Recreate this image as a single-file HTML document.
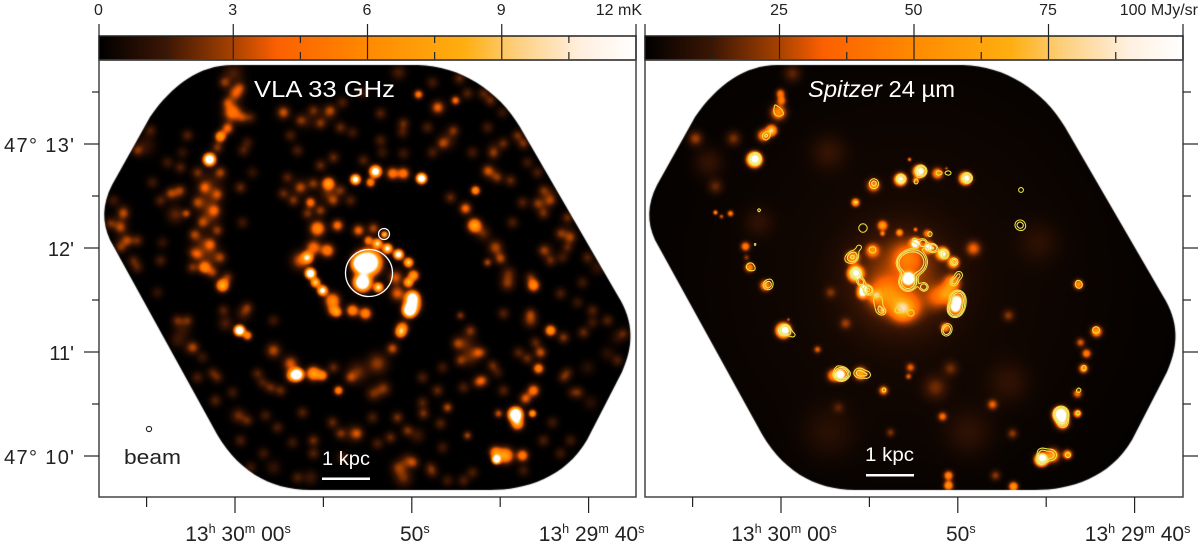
<!DOCTYPE html>
<html lang="en">
<head>
<meta charset="utf-8">
<title>M51 VLA 33 GHz and Spitzer 24 micron maps</title>
<style>
html,body{margin:0;padding:0;background:#fff;}
#stage{position:relative;width:1200px;height:559px;overflow:hidden;background:#fff;font-family:"Liberation Sans",sans-serif;}
canvas{position:absolute;display:block;}
#overlay{position:absolute;left:0;top:0;}
#overlay text{font-family:"Liberation Sans",sans-serif;}
</style>
</head>
<body>
<div id="stage">
<canvas id="radioMap" width="537" height="437" style="left:99px;top:60px"></canvas>
<canvas id="irMap" width="537" height="437" style="left:645px;top:60px"></canvas>
<svg id="overlay" width="1200" height="559" viewBox="0 0 1200 559" xmlns="http://www.w3.org/2000/svg">
<defs>
<linearGradient id="cmapGradient" x1="0" x2="1" y1="0" y2="0"></linearGradient>
</defs>
<g id="barsLayer"></g>
<g id="contourLayer" fill="none"></g>
<g id="axesLayer"></g>
<g id="annotationLayer">
<circle cx="369" cy="273" r="23.5" fill="none" stroke="#fff" stroke-width="1.3"/>
<circle cx="384" cy="234" r="5.5" fill="none" stroke="#fff" stroke-width="1.2"/>
<text x="254" y="97" font-size="23" fill="#fff" textLength="141" lengthAdjust="spacingAndGlyphs">VLA 33 GHz</text>
<text x="808" y="97" font-size="23" fill="#fff" textLength="147" lengthAdjust="spacingAndGlyphs"><tspan font-style="italic">Spitzer</tspan> 24 µm</text>
<text x="322" y="465" font-size="19" fill="#fff" textLength="48" lengthAdjust="spacingAndGlyphs">1 kpc</text>
<rect x="322" y="477.5" width="48" height="2.5" fill="#fff"/>
<text x="865" y="461" font-size="19" fill="#fff" textLength="49" lengthAdjust="spacingAndGlyphs">1 kpc</text>
<rect x="866" y="474" width="48" height="2.5" fill="#fff"/>
<circle cx="149" cy="429" r="2.6" fill="#fff" stroke="#222" stroke-width="1.1"/>
<text x="124" y="464" font-size="20" fill="#222" textLength="57" lengthAdjust="spacingAndGlyphs">beam</text>
</g>
</svg>
</div>
<script>
/* ---------- axis data ---------- */
const radioBarTicks = [0, 1.5, 3, 4.5, 6, 7.5, 9, 10.5, 12];
const radioBarLabels = ["0", "", "3", "", "6", "", "9", "", "12 mK"];
const irBarTicks = [0, 12.5, 25, 37.5, 50, 62.5, 75, 87.5, 100];
const irBarLabels = ["", "", "25", "", "50", "", "75", "", "100 MJy/sr"];
const raTicks = [-5, 0, 5, 10, 15, 20];
const raLabels = ["", "13h 30m 00s", "", "50s", "", "13h 29m 40s"];
const decTicks = [10, 10.5, 11, 11.5, 12, 12.5, 13, 13.5];
const decLabels = ["47° 10'", "", "11'", "", "12'", "", "47° 13'", ""];
const cmapLevels = [0, 0.125, 0.25, 0.33, 0.5, 0.68, 0.78, 0.9, 1];
const cmapColors = ["#000000", "#3c1604", "#a84200", "#fb5f00", "#ff8a00", "#ffae10", "#fdd080", "#fff0e0", "#ffffff"];
const contourLevels = [0.33, 0.48, 0.75];

/* Emission knots: [west offset, north offset, width, peak] from the nucleus,
   in map cells (1 cell = 0.577 arcsec); peak is a fraction of the colour-bar range. */
const radioKnots = [
[-129,209,7,.14],[-127,189,5,.3],[-130,170,6,.42],[-135,154,4,.35],[-142,146,3.5,.6],[-153,123,3.5,1.6],
[-152,99,9,.12],[-155,79,9,.13],[-152,65,7,.12],[-159,39,8,.14],[-152,25,8,.12],[-158,15,4,.45],[-140,-3,4,.7],
[-187,68,6,.16],[-176,69,3,.25],[-217,137,7,.1],[-242,59,6,.08],[-239,72,5,.08],[-239,42,6,.08],[-187,89,5,.1],
[-34,99,4,.6],[-52,80,3.5,.4],[-7,103,3,1.2],[-45,54,5,.5],[-25,57,4,.38],[-55,25,3.5,.8],[-52,9,3,1.6],
[-35,32,4.5,.45],[-62,22,6,.3],[-49,35,5,.38],[-35,89,6,.14],[-62,95,7,.08],[-79,170,5,.12],[-35,169,6,.1],[-55,162,6,.08],
[13,111,3.5,1.3],[8,100,3,.5],[30,109,4,.42],[41,109,4,.42],[59,104,3,1.5],[6,20,7,2],[-2,19,5,1.5],[0,0,5,1.8],
[16,-5,3,.9],[-4,52,4,.35],[11,54,4,.25],[22,48,2,.8],[6,42,3,.45],[15,39,3,.85],[25,34,3,1],[36,28,3,1.2],[46,20,3,.8],
[51,7,3.5,.6],[46,0,3,.7],[50,-15,4,1.2],[47,-28,4,1.6],[50,-22,5,.9],[40,-45,4,.45],[35,-11,5,.32],[33,5,5,.3],
[-40,-8,3,1.1],[-47,0,3,.8],[-30,-18,5,.5],[-25,-30,3,.4],[-10,-28,4,.5],[3,-31,4,.5],
[56,188,3,.42],[93,182,3,.38],[76,175,5,.14],[97,204,4,.16],[36,210,5,.14],[85,142,6,.12],[113,92,3,.55],[128,110,5,.12],
[103,74,4,.36],[112,57,4.5,.65],[121,49,5,.16],[133,35,5,.25],[138,24,4,.26],[125,20,3,.25],[146,9,5,.16],[155,147,4,.18],
[131,134,5,.08],[181,79,6,.08],[205,49,6,.08],[188,89,5,.08],[185,32,5,.08],[235,15,5,.1],
[38,-50,3.5,.6],[30,-66,4,.28],[15,-81,7,.22],[21,-106,5,.2],[11,-111,5,.18],[103,-61,7,.14],[108,-75,6,.14],[118,-98,4,.14],
[98,-33,3,.2],[145,-1,5,.2],[171,-3,4,.5],[168,-38,5,.2],[188,-48,3.5,.58],[201,-55,4,.2],[178,-70,4,.28],[173,-60,4,.16],
[176,-86,3.5,.48],[171,-108,4,.42],[163,-116,4,.32],[153,-132,4,2],[155,-141,4,.65],[170,-131,2.5,.6],[136,-131,3,.28],
[134,-177,2.5,1.6],[143,-173,5,.62],[160,-173,4,.45],[133,-170,4,.5],[85,-125,3.5,.26],[55,-153,5,.12],[41,-195,6,.18],[45,-178,5,.16],
[105,-153,3,.24],[245,-71,5,.08],[228,-120,5,.08],[255,-55,5,.08],[225,-85,5,.08],
[-123,-48,3,1.7],[-115,-53,3,.5],[-119,-31,5,.14],[-137,-41,5,.14],[-89,-68,5,.26],[-72,-81,5,.3],[-65,-92,3.5,1.6],[-70,-93,4,.6],
[-49,-91,4.5,.62],[-40,-93,3.5,.45],[-24,-108,3,.5],[-5,-90,7,.18],[-180,-48,6,.1],[-172,-65,5,.1],[-185,-58,5,.1],
[-124,-133,5,.18],[-97,-133,4,.13],[-49,-158,4,.18],[-52,-195,5,.12],[-89,-185,5,.1],[-99,-171,4,.12],[-9,-151,6,.14],
[36,-185,5,.2],[-29,-28,4,.38]
];

/* Fainter, small-scale structure: [west offset, north offset, peak]. */
const radioMottle = [
[-138,200,.2],[-122,195,.19],[-135,180,.22],[-120,165,.19],[-145,135,.2],[-165,110,.17],[-142,110,.22],[-158,95,.24],[-145,88,.22],[-165,80,.2],
[-148,72,.24],[-160,60,.22],[-145,52,.2],[-168,48,.22],[-152,38,.24],[-165,28,.22],[-142,25,.2],[-150,10,.22],[-170,15,.19],[-135,5,.19],
[-225,132,.17],[-212,152,.14],[-249,82,.12],[-239,69,.19],[-242,55,.2],[-252,59,.17],[-235,42,.19],[-225,42,.17],[-242,35,.17],[-229,22,.15],
[-202,82,.15],[-192,89,.19],[-182,92,.19],[-175,147,.15],[-182,115,.15],[-122,95,.17],[-119,132,.14],[-112,165,.14],[-202,22,.14],
[-69,82,.19],[-79,89,.17],[-62,95,.19],[-49,99,.2],[-29,82,.22],[-42,72,.22],[-55,69,.19],[-75,105,.15],[-22,92,.19],[-12,82,.15],
[-79,170,.17],[-62,162,.17],[-49,172,.17],[-32,172,.19],[-22,155,.17],[-42,159,.19],[-72,147,.14],[-65,132,.14],[-29,125,.17],[-42,117,.17],[1,122,.15],
[80,139,.19],[91,152,.19],[75,175,.2],[105,189,.15],[121,189,.15],[128,182,.17],[161,139,.19],[141,139,.17],[131,129,.17],[125,112,.2],[135,105,.19],[148,102,.17],
[181,92,.17],[175,79,.17],[188,82,.19],[181,69,.17],[205,65,.17],[198,49,.17],[208,45,.19],[205,35,.15],[225,25,.15],[181,32,.17],[188,22,.17],[168,5,.17],
[88,85,.17],[41,159,.17],[18,142,.14],[18,169,.15],[65,155,.14],[41,129,.12],
[95,-61,.19],[108,-48,.19],[115,-70,.2],[98,-78,.19],[130,-83,.17],[121,-98,.15],[115,-100,.14],[141,-108,.15],[101,-105,.14],[75,-108,.17],
[61,-131,.19],[35,-135,.19],[78,-141,.15],[45,-148,.19],[28,-155,.17],[15,-161,.14],[68,-185,.14],[51,-180,.2],[85,-198,.12],[101,-198,.14],
[161,-188,.12],[181,-158,.14],[208,-158,.12],[198,-171,.12],[216,-110,.15],[201,-95,.15],[221,-50,.17],[245,-38,.15],[230,-28,.15],[261,-51,.14],
[255,-78,.14],[168,-31,.17],[141,-31,.15],[198,-11,.14],[156,-70,.15],[165,-76,.17],
[-185,-38,.17],[-175,-38,.17],[-169,-65,.17],[-165,-95,.14],[-145,-95,.14],[-147,-118,.15],[-115,-138,.15],[-139,-28,.15],[-115,-25,.17],[-89,-38,.12],
[-105,-91,.15],[-92,-105,.17],[-82,-108,.17],[-29,-85,.17],[-12,-95,.19],[-22,-151,.19],[-5,-151,.19],[-49,-171,.15],[-65,-195,.14],[-112,-185,.12],
[-122,-158,.14],[-85,-145,.14],
[-210,100,.12],[-200,40,.1],[-225,15,.14],[-205,-10,.1],[-170,30,.12],[-120,60,.12],[-110,110,.1],[-115,140,.12],[-180,130,.1],[-195,120,.12],
[-150,-90,.13],[-130,-110,.12],[-160,-75,.11],[-100,-100,.13],[-60,-130,.15],[-30,-140,.17],[-70,-160,.12],[-20,-175,.14],[10,-135,.14],[60,-120,.15],
[80,-85,.12],[60,-95,.14],[80,-165,.12],[70,-190,.12],[110,-190,.14],[120,-70,.13],[135,-90,.11],[190,-140,.12],[210,-110,.11],[205,-90,.13],
[230,-40,.12],[215,-20,.11],[150,60,.14],[160,80,.15],[175,110,.14],[200,25,.13],[220,0,.12],[165,120,.12],[125,155,.13],[110,130,.13],
[70,130,.14],[40,150,.13],[20,130,.11],[-10,150,.12],[-20,180,.14],[70,200,.13],[140,170,.11],[0,190,.12]
];

const infraredKnots = [
[0,2,150,.045],[-200,120,10,.09],[-150,60,10,.07],[-80,130,12,.08],[130,40,14,.06],[60,-150,16,.07],[-80,-150,18,.06],[100,-100,14,.07],
[-128,189,3,.4],[-127,182,3,.4],[-130,170,5,.5],[-137,152,3.5,.8],[-145,147,4,.5],[-154,123,4,2.2],[-213,144,5,.22],[-175,144,5,.18],
[-193,96,5,.15],[-193,70,1.5,.5],[-178,69,2,.45],[-187,66,1.5,.3],[-116,209,6,.15],[-163,36,3,.45],[-159,15,3,.5],[-162,25,2,.2],
[-53,80,2.5,.7],[-35,97,4,.5],[-8,103,3.5,1.3],[1,123,1.2,.45],[-26,57,3,.55],[-9,50,2,.55],[-56,25,4,.55],[-53,9,4,2],[-36,32,4,.45],
[11,111,3.5,1.6],[7,102,2,.4],[29,109,3.5,.55],[57,104,3.5,1.5],[38,114,1,.3],[-45,-6,3,1.1],[-26,49,1.5,.4],[7,53,1.2,.4],
[0,4,3.5,2.4],[-8,2,32,.22],[-25,-11,10,.22],[-16,-15,10,.14],[-8,-25,8,.2],[2,-25,8,.2],[-26,-28,2,.55],[29,-15,8,.2],[65,34,5,.3],
[7,39,3,1.3],[20,35,3,1.2],[34,29,3.5,1.2],[45,20,3.5,.65],[19,49,2.5,.4],[-1,25,10,.25],[49,-18,3.5,1.3],[47,-25,3.5,1.5],[44,0,5,.45],
[39,-11,6,.42],[37,-45,3,.5],[170,-2,3,.55],[188,-49,3.5,.6],[172,-60,3,.3],[178,-71,3,.45],[175,-86,3,.55],[169,-111,3,.4],
[152,-132,4,2.4],[154,-140,4,.8],[169,-131,2.5,.7],[133,-177,3.5,2.4],[144,-173,4.5,.6],[159,-172,3,.6],[40,-193,3,.5],[40,-203,3,.6],
[105,-204,3,.6],[84,-122,3.5,.3],[34,-134,3,.35],[104,-151,3.5,.2],[87,-193,3.5,.2],[100,-33,4,.18],[27,-105,8,.15],[42,-86,5,.15],
[-143,-3,3.5,.55],[-125,-48,4,1.9],[-120,-37,1,.3],[-91,-67,2.5,.3],[-68,-92,3.5,1.5],[-75,-93,4,.5],[-48,-91,4,.65],[-25,-108,3,.45],
[2,-85,3,.3],[0,-94,2,.3],[-63,-41,4,.18],[-78,-10,4,.15],[-18,-150,3,.18],[-70,-125,4,.12],[-46,-11,3,.9],[-33,-13,4,.45],[-6,-28,7,.3]
];

/* ---------- scales ---------- */
const NS = "http://www.w3.org/2000/svg";
const MAP_W = 537, MAP_H = 437;
const NUCLEUS_COL = 263, NUCLEUS_ROW = 222;
const CELL_ARCSEC = 0.577, PX_PER_ARCSEC = 104 / 60;
const MOTTLE_WIDTH = 4;
function cellX(west) { return NUCLEUS_COL + west * CELL_ARCSEC * PX_PER_ARCSEC; }
function cellY(north) { return NUCLEUS_ROW - north * CELL_ARCSEC * PX_PER_ARCSEC; }
function raX(sec, panelShift) { return 235 + sec * 17.68 + panelShift; }
function decY(arcmin) { return 456 - (arcmin - 10) * 104; }
function barX(value, maxValue, left, width) { return left + value / maxValue * width; }

function hexToRgb(h) { return [parseInt(h.substr(1, 2), 16), parseInt(h.substr(3, 2), 16), parseInt(h.substr(5, 2), 16)]; }
function colourAt(t) {
  t = Math.max(0, Math.min(1, t));
  for (let i = 1; i < cmapLevels.length; i++) {
    if (t <= cmapLevels[i]) {
      const a = hexToRgb(cmapColors[i - 1]), b = hexToRgb(cmapColors[i]);
      const f = (t - cmapLevels[i - 1]) / (cmapLevels[i] - cmapLevels[i - 1]);
      return [a[0] + (b[0] - a[0]) * f, a[1] + (b[1] - a[1]) * f, a[2] + (b[2] - a[2]) * f];
    }
  }
  return hexToRgb(cmapColors[cmapColors.length - 1]);
}

/* ---------- maps ---------- */
function buildField(knots) {
  const field = new Float32Array(MAP_W * MAP_H);
  knots.forEach(function (k) {
    const cx = cellX(k[0]), cy = cellY(k[1]), s = k[2], a = k[3];
    const reach = Math.ceil(s * 3.2);
    const x0 = Math.max(0, Math.floor(cx - reach)), x1 = Math.min(MAP_W - 1, Math.ceil(cx + reach));
    const y0 = Math.max(0, Math.floor(cy - reach)), y1 = Math.min(MAP_H - 1, Math.ceil(cy + reach));
    for (let y = y0; y <= y1; y++) {
      for (let x = x0; x <= x1; x++) {
        const dx = x - cx, dy = y - cy;
        field[y * MAP_W + x] += a * Math.exp(-(dx * dx + dy * dy) / (2 * s * s));
      }
    }
  });
  return field;
}
function smoothField(field, radius) {
  const out = new Float32Array(field.length), tmp = new Float32Array(field.length);
  const n = 2 * radius + 1;
  for (let y = 0; y < MAP_H; y++) {
    for (let x = 0; x < MAP_W; x++) {
      let sum = 0;
      for (let d = -radius; d <= radius; d++) sum += field[y * MAP_W + Math.max(0, Math.min(MAP_W - 1, x + d))];
      tmp[y * MAP_W + x] = sum / n;
    }
  }
  for (let y = 0; y < MAP_H; y++) {
    for (let x = 0; x < MAP_W; x++) {
      let sum = 0;
      for (let d = -radius; d <= radius; d++) sum += tmp[Math.max(0, Math.min(MAP_H - 1, y + d)) * MAP_W + x];
      out[y * MAP_W + x] = sum / n;
    }
  }
  return out;
}
const MAP_OUTLINE = "M232,65 L418,65 C460,66 498,90 520,127 L618,296 C634,322 634,345 622,372 L587,440 C565,478 525,490 490,490 L310,490 C270,490 235,470 213,427 L110,240 C102,222 102,205 112,185 L150,117 C172,85 200,65 232,65 Z";
function paintField(canvas, field, originX) {
  const off = document.createElement("canvas");
  off.width = MAP_W;
  off.height = MAP_H;
  const octx = off.getContext("2d");
  const img = octx.createImageData(MAP_W, MAP_H);
  for (let i = 0; i < field.length; i++) {
    const c = colourAt(field[i]);
    img.data[i * 4] = c[0];
    img.data[i * 4 + 1] = c[1];
    img.data[i * 4 + 2] = c[2];
    img.data[i * 4 + 3] = 255;
  }
  octx.putImageData(img, 0, 0);
  const ctx = canvas.getContext("2d");
  ctx.save();
  ctx.translate(-originX, -60);
  ctx.clip(new Path2D(MAP_OUTLINE));
  ctx.translate(originX, 60);
  ctx.drawImage(off, 0, 0);
  ctx.restore();
}
const radioField = buildField(radioKnots.concat(radioMottle.map(function (m) { return [m[0], m[1], MOTTLE_WIDTH, m[2]]; })));
const infraredField = buildField(infraredKnots);
paintField(document.getElementById("radioMap"), radioField, 99);
paintField(document.getElementById("irMap"), infraredField, 100);

/* ---------- contours of the radio field on the infrared map ---------- */
function contourPath(field, level, originX, originY) {
  const step = 2, parts = [];
  function val(x, y) { return field[y * MAP_W + x]; }
  function cross(a, b) { return (level - a) / (b - a); }
  for (let y = 0; y + step < MAP_H; y += step) {
    for (let x = 0; x + step < MAP_W; x += step) {
      const a = val(x, y), b = val(x + step, y), c = val(x + step, y + step), d = val(x, y + step);
      const code = (a > level ? 8 : 0) | (b > level ? 4 : 0) | (c > level ? 2 : 0) | (d > level ? 1 : 0);
      if (code === 0 || code === 15) continue;
      const top = [x + step * cross(a, b), y], right = [x + step, y + step * cross(b, c)];
      const bottom = [x + step * cross(d, c), y + step], left = [x, y + step * cross(a, d)];
      const segs = {1:[[left,bottom]],2:[[bottom,right]],3:[[left,right]],4:[[top,right]],5:[[left,top],[bottom,right]],6:[[top,bottom]],7:[[left,top]],8:[[left,top]],9:[[top,bottom]],10:[[top,right],[left,bottom]],11:[[top,right]],12:[[left,right]],13:[[bottom,right]],14:[[left,bottom]]}[code];
      segs.forEach(function (s) {
        parts.push("M" + (s[0][0] + originX).toFixed(1) + " " + (s[0][1] + originY).toFixed(1) + "L" + (s[1][0] + originX).toFixed(1) + " " + (s[1][1] + originY).toFixed(1));
      });
    }
  }
  return parts.join("");
}
const contourField = smoothField(radioField, 2);
const contourLayer = document.getElementById("contourLayer");
contourLevels.forEach(function (level, i) {
  const p = document.createElementNS(NS, "path");
  p.setAttribute("d", contourPath(contourField, level, 645, 60));
  p.setAttribute("stroke", i === 0 ? "#e9e03c" : "#efe770");
  p.setAttribute("stroke-width", "1.1");
  
  
  contourLayer.appendChild(p);
});

/* ---------- colour bars, frames, ticks ---------- */
const grad = document.getElementById("cmapGradient");
cmapLevels.forEach(function (lv, i) {
  const s = document.createElementNS(NS, "stop");
  s.setAttribute("offset", lv);
  s.setAttribute("stop-color", cmapColors[i]);
  grad.appendChild(s);
});
const axesLayer = document.getElementById("axesLayer");
const barsLayer = document.getElementById("barsLayer");
function tickLine(x1, y1, x2, y2) {
  const l = document.createElementNS(NS, "line");
  l.setAttribute("x1", x1);
  l.setAttribute("y1", y1);
  l.setAttribute("x2", x2);
  l.setAttribute("y2", y2);
  l.setAttribute("stroke", "#222");
  l.setAttribute("stroke-width", "1.2");
  
  
  axesLayer.appendChild(l);
}
function addText(str, x, y, size, anchor) {
  const t = document.createElementNS(NS, "text");
  t.setAttribute("x", x);
  t.setAttribute("y", y);
  t.setAttribute("font-size", size);
  t.setAttribute("fill", "#222");
  t.setAttribute("text-anchor", anchor);
  
  
  str.split(/(?<=\d)(?=[hms]\b)|(?<=[hms])(?=\s)/).forEach(function (piece) {
    const ts = document.createElementNS(NS, "tspan");
    const isUnit = /^[hms]$/.test(piece);
    ts.textContent = piece;
    if (isUnit) {
      ts.setAttribute("font-size", size * 0.6);
      ts.setAttribute("dy", -8);
    } else if (t.lastChild && /^[hms]$/.test(t.lastChild.textContent)) {
      ts.setAttribute("dy", 8);
    }
    t.appendChild(ts);
  });
  axesLayer.appendChild(t);
  return t;
}
function drawBar(left, width, ticks, labels, maxValue, endX, name) {
  const r = document.createElementNS(NS, "rect");
  r.setAttribute("x", left);
  r.setAttribute("y", 36);
  r.setAttribute("width", width);
  r.setAttribute("height", 24);
  r.setAttribute("fill", "url(#cmapGradient)");
  r.setAttribute("stroke", "#222");
  r.setAttribute("stroke-width", "1.5");
  
  
  barsLayer.appendChild(r);
  ticks.forEach(function (v, i) {
    const x = barX(v, maxValue, left, width);
    if (i % 2 === 0) {
      tickLine(x, 24, x, 60);
    } else {
      tickLine(x, 36, x, 43);
      tickLine(x, 52, x, 60);
    }
    if (labels[i]) {
      if (i === ticks.length - 1) addText(labels[i], endX, 15, 16, "end");
      else addText(labels[i], x - 0.5, 15, 16, "middle");
    }
  });
}
drawBar(99, 537, radioBarTicks, radioBarLabels, 12, 642, "colorbar-33ghz");
drawBar(645, 538, irBarTicks, irBarLabels, 100, 1198, "colorbar-24um");

function drawFrame(x, w, name) {
  const r = document.createElementNS(NS, "rect");
  r.setAttribute("x", x);
  r.setAttribute("y", 60);
  r.setAttribute("width", w);
  r.setAttribute("height", 437);
  r.setAttribute("fill", "none");
  r.setAttribute("stroke", "#444");
  r.setAttribute("stroke-width", "1.5");
  
  
  axesLayer.appendChild(r);
}
drawFrame(99, 537, "frame-33ghz");
drawFrame(645, 538, "frame-24um");

[0, 546].forEach(function (shift) {
  raTicks.forEach(function (s, i) {
    const x = raX(s, shift);
    const major = i % 2 === 1;
    tickLine(x, 497, x, major ? 513 : 507);
    if (raLabels[i]) addText(raLabels[i], x + 3, 541, 21, "middle");
  });
});
decTicks.forEach(function (d, i) {
  const y = decY(d);
  const major = i % 2 === 0;
  tickLine(major ? 84 : 92, y, 99, y);
  tickLine(1183, y, major ? 1198 : 1191, y);
  if (decLabels[i]) {
    const t = addText(decLabels[i], 74, y + 8, 20, "end");
    if (decLabels[i].length > 4) {
      t.setAttribute("textLength", 70);
    }
  }
});
</script>
</body>
</html>
